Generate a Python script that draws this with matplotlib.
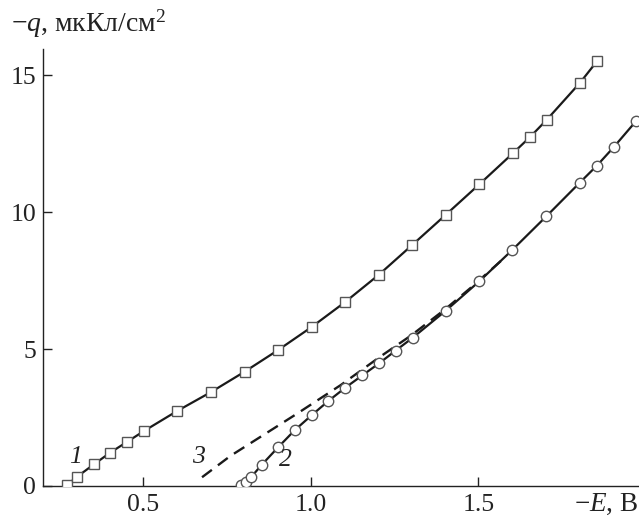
import matplotlib
matplotlib.use("Agg")
import matplotlib.pyplot as plt

# Curve 1 (squares)
e1 = [0.272, 0.302, 0.352, 0.401, 0.451, 0.502, 0.601, 0.702, 0.802, 0.902, 1.002,
      1.103, 1.203, 1.303, 1.403, 1.503, 1.603, 1.654, 1.704, 1.804, 1.855]
q1 = [0.04, 0.34, 0.79, 1.22, 1.61, 2.01, 2.74, 3.43, 4.17, 4.96, 5.80,
      6.72, 7.71, 8.80, 9.90, 11.01, 12.14, 12.73, 13.36, 14.72, 15.51]

# Curve 2 (circles)
e2 = [0.790, 0.806, 0.822, 0.853, 0.902, 0.952, 1.003, 1.052, 1.103, 1.154, 1.204,
      1.253, 1.304, 1.403, 1.503, 1.602, 1.703, 1.803, 1.854, 1.904, 1.972]
q2 = [0.02, 0.14, 0.33, 0.77, 1.41, 2.04, 2.59, 3.10, 3.59, 4.04, 4.48,
      4.94, 5.41, 6.40, 7.47, 8.62, 9.84, 11.07, 11.69, 12.36, 13.33]

# Curve 3 (dashed)
e3 = [0.675, 0.760, 0.960, 1.090, 1.207, 1.300, 1.400, 1.480, 1.570]
q3 = [0.32, 1.10, 2.65, 3.69, 4.72, 5.50, 6.44, 7.26, 8.24]

xticks = [0.5, 1.0, 1.5]
xticklabels = ["0.5", "1.0", "1.5"]
yticks = [0, 5, 10, 15]
yticklabels = ["0", "5", "10", "15"]

plt.rcParams["font.family"] = ["Liberation Serif", "DejaVu Serif"]
plt.rcParams["mathtext.fontset"] = "custom"
plt.rcParams["mathtext.rm"] = "Liberation Serif"
plt.rcParams["mathtext.it"] = "Liberation Serif:italic"

fig = plt.figure(figsize=(6.39, 5.19), dpi=100)
ax = fig.add_axes([0.0673, 0.0636, 0.9327, 0.842])

line_c = "#1a1a1a"
mk_c = "#555555"
ax.plot(e3, q3, color=line_c, lw=1.7, ls=(0, (5.2, 3.2)), zorder=2)
ax.plot(e1, q1, color=line_c, lw=1.6, marker="s", ms=6.5, mfc="white",
        mec=mk_c, mew=1.0, zorder=3)
ax.plot(e2, q2, color=line_c, lw=1.6, marker="o", ms=7.5, mfc="white",
        mec=mk_c, mew=1.0, zorder=3)

ax.set_xlim(0.2, 1.98)
ax.set_ylim(0, 15.95)
ax.spines["top"].set_visible(False)
ax.spines["right"].set_visible(False)
for s in ("left", "bottom"):
    ax.spines[s].set_linewidth(1.0)
    ax.spines[s].set_color("#222222")

fs = 18.5
ax.set_xticks(xticks)
ax.set_xticklabels(xticklabels)
ax.set_yticks(yticks)
ax.set_yticklabels(yticklabels)
ax.tick_params(direction="in", length=6.5, width=1.0, labelsize=fs,
               colors="#222222", pad=5)
ax.tick_params(axis="x", pad=6)

ax.text(0.278, 0.85, "1", fontsize=fs, style="italic", color="#222222")
ax.text(0.645, 0.85, "3", fontsize=fs, style="italic", color="#222222")
ax.text(0.905, 0.72, "2", fontsize=fs, style="italic", color="#222222")

fig.text(0.017, 0.94, r"$-q$, мкКл/см$^2$", fontsize=20, color="#222222",
         va="baseline", ha="left")
fig.text(0.998, 0.016, r"$-E$, В", fontsize=19.5, color="#222222",
         va="baseline", ha="right")

fig.savefig("out.png", dpi=100)
